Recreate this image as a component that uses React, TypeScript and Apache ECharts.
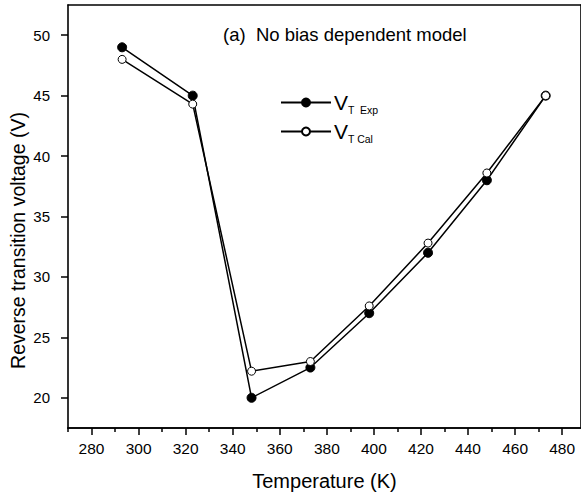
import React, { useEffect, useRef } from "react";
import * as echarts from "echarts";

const temperatures = [293, 323, 348, 373, 398, 423, 448, 473];
const vtExp = [49, 45, 20, 22.5, 27, 32, 38, 45];
const vtCal = [48, 44.3, 22.2, 23, 27.6, 32.8, 38.6, 45];
const xMajorTicks = [280, 300, 320, 340, 360, 380, 400, 420, 440, 460, 480];
const xMinorTicks = [270, 290, 310, 330, 350, 370, 390, 410, 430, 450, 470];
const yMajorTicks = [20, 25, 30, 35, 40, 45, 50];
const yMinorTicks = [17.5, 22.5, 27.5, 32.5, 37.5, 42.5, 47.5, 52.5];

const FONT = "Liberation Sans, Arial, sans-serif";

export default function App() {
  const ref = useRef<HTMLDivElement>(null);
  useEffect(() => {
    if (!ref.current) return;
    const chart = echarts.init(ref.current, null, { renderer: "svg" });
    const axisLine = { show: true, lineStyle: { color: "#000", width: 1.6 } };
    chart.setOption({
      animation: false,
      backgroundColor: "#fff",
      grid: { left: 68, right: 0, top: 5, bottom: 67, containLabel: false, outerBoundsMode: "none" },
      title: {
        text: "(a)  No bias dependent model",
        left: 218,
        top: 20,
        padding: 5,
        textStyle: { fontFamily: FONT, fontSize: 18.5, fontWeight: "normal", color: "#000" },
      },
      legend: {
        orient: "vertical",
        left: 280,
        top: 92,
        padding: 0,
        itemWidth: 50,
        itemHeight: 10,
        itemGap: 6,
        data: ["Exp", "Cal"],
        formatter: (n: string) => (n === "Exp" ? "{v|V}{s|T  Exp}" : "{v|V}{s|T Cal}"),
        textStyle: {
          fontFamily: FONT,
          color: "#000",
          padding: [0, 0, 0, -2],
          rich: {
            v: { fontSize: 21, fontFamily: FONT, color: "#000", lineHeight: 22 },
            s: { fontSize: 10.5, fontFamily: FONT, color: "#000", padding: [14, 0, 0, 0] },
          },
        },
      },
      xAxis: [
        {
          type: "value",
          min: 270,
          max: 488,
          position: "bottom",
          name: "Temperature (K)",
          nameLocation: "middle",
          nameGap: 43,
          nameMoveOverlap: false,
          nameTextStyle: { fontFamily: FONT, fontSize: 20, color: "#000" },
          axisLine,
          axisTick: { show: true, length: 7, lineStyle: { color: "#000", width: 1.5 }, customValues: xMajorTicks },
          axisLabel: { customValues: xMajorTicks, fontFamily: FONT, fontSize: 15.5, color: "#000", margin: 12 },
          splitLine: { show: false },
        },
        {
          type: "value",
          min: 270,
          max: 488,
          position: "bottom",
          axisLine,
          axisTick: { show: true, length: 4, lineStyle: { color: "#000", width: 1.5 }, customValues: xMinorTicks },
          axisLabel: { show: false },
          splitLine: { show: false },
        },
        {
          type: "value",
          min: 270,
          max: 488,
          position: "top",
          axisLine,
          axisTick: { show: false },
          axisLabel: { show: false },
          splitLine: { show: false },
        },
      ],
      yAxis: [
        {
          type: "value",
          min: 17.5,
          max: 52.5,
          name: "Reverse transition voltage (V)",
          nameLocation: "middle",
          nameGap: 40,
          nameMoveOverlap: false,
          nameTextStyle: { fontFamily: FONT, fontSize: 19.5, color: "#000", padding: [0, 48, 0, 0] },
          axisLine,
          axisTick: { show: true, length: 7, lineStyle: { color: "#000", width: 1.5 }, customValues: yMajorTicks },
          axisLabel: { customValues: yMajorTicks, fontFamily: FONT, fontSize: 15, color: "#000", margin: 18 },
          splitLine: { show: false },
        },
        {
          type: "value",
          min: 17.5,
          max: 52.5,
          axisLine,
          axisTick: { show: true, length: 4, lineStyle: { color: "#000", width: 1.5 }, customValues: yMinorTicks },
          axisLabel: { show: false },
          splitLine: { show: false },
        },
      ],
      series: [
        {
          name: "Exp",
          type: "line",
          data: temperatures.map((t, i) => [t, vtExp[i]]),
          symbol: "circle",
          symbolSize: 9,
          lineStyle: { color: "#000", width: 1.5 },
          itemStyle: { color: "#000", borderColor: "#000", borderWidth: 1 },
          z: 3,
        },
        {
          name: "Cal",
          type: "line",
          data: temperatures.map((t, i) => [t, vtCal[i]]),
          symbol: "circle",
          symbolSize: 8,
          showAllSymbol: true,
          lineStyle: { color: "#000", width: 1.5 },
          itemStyle: { color: "#fff", borderColor: "#000", borderWidth: 1 },
          z: 4,
        },
      ],
    });
    return () => chart.dispose();
  }, []);
  return <div ref={ref} style={{ width: 581, height: 495, position: "absolute", left: 0, top: 0 }} />;
}
